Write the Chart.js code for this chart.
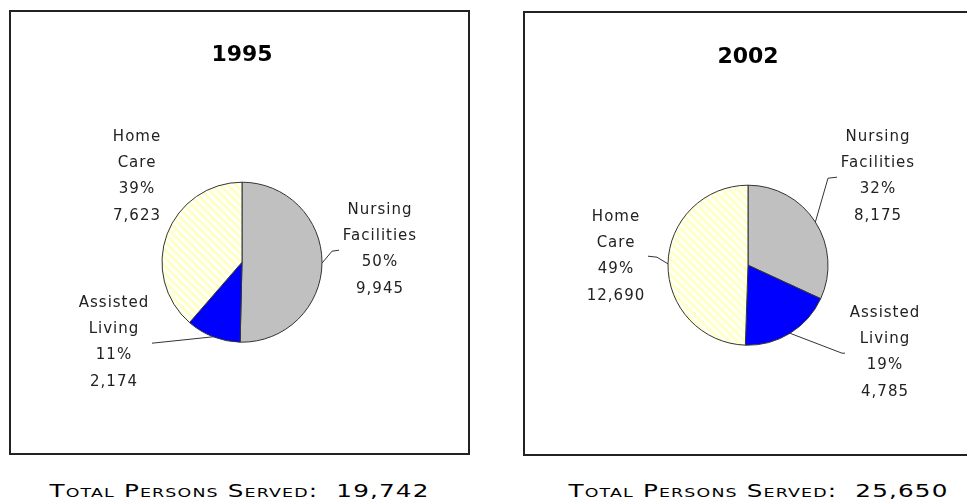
<!DOCTYPE html>
<html>
<head>
<meta charset="utf-8">
<script src="https://cdn.jsdelivr.net/npm/chart.js@4.4.1/dist/chart.umd.min.js"></script>
<style>
  html, body { margin: 0; padding: 0; background: #fff; overflow: hidden; }
  body { width: 967px; height: 501px; position: relative; }
  .panel { position: absolute; width: 461px; height: 445px; box-sizing: border-box; border: 2px solid #222; background: #fff; }
  .panel canvas { display: block; }
  .total {
    position: absolute; width: 461px; top: 483px; line-height: 17px;
    font-family: "DejaVu Sans", sans-serif; font-size: 17px; font-variant: small-caps;
    letter-spacing: 0.8px; text-align: center; color: #000; white-space: pre;
    transform: scaleX(1.45); transform-origin: center;
  }
</style>
</head>
<body>
<div class="panel" style="left:9px; top:10px;"><canvas id="pie1995" width="457" height="441"></canvas></div>
<div class="panel" style="left:523px; top:11px;"><canvas id="pie2002" width="457" height="441"></canvas></div>
<div class="total" id="total1995" style="left:9px;"></div>
<div class="total" id="total2002" style="left:528px;"></div>
<script>
document.addEventListener('DOMContentLoaded', function () {
  const categories = ['Nursing Facilities', 'Assisted Living', 'Home Care'];
  const years = ['1995', '2002'];
  const persons1995 = [9945, 2174, 7623];
  const persons2002 = [8175, 4785, 12690];

  // label placement per slice, offsets from pie centre (px)
  const layout1995 = [
    { label: [138, -13], elbow: [90, -11], end: [97, -12] },
    { label: [-128, 80], elbow: null, end: [-90, 81] },
    { label: [-105, -86], elbow: null, end: null }
  ];
  const layout2002 = [
    { label: [130, -89], elbow: [80, -87], end: [89, -88] },
    { label: [137, 87], elbow: [94, 88], end: [97, 88] },
    { label: [-132, -9], elbow: [-91, -8], end: [-100, -9] }
  ];

  function stripes() {
    const c = document.createElement('canvas');
    c.width = 8; c.height = 8;
    const g = c.getContext('2d');
    g.fillStyle = '#FFFFC8';
    g.fillRect(0, 0, 8, 8);
    g.strokeStyle = '#ffffff';
    g.lineWidth = 2.4;
    g.beginPath();
    g.moveTo(-1, -1); g.lineTo(9, 9);
    g.moveTo(-5, 3); g.lineTo(5, 13);
    g.moveTo(3, -5); g.lineTo(13, 5);
    g.stroke();
    return g.createPattern(c, 'repeat');
  }

  const fmt = v => v.toLocaleString('en-US');

  const sliceLabels = {
    id: 'sliceLabels',
    afterDatasetsDraw(chart, args, opts) {
      const ctx = chart.ctx;
      const values = chart.data.datasets[0].data;
      const total = values.reduce((s, v) => s + v, 0);
      const meta = chart.getDatasetMeta(0);
      ctx.save();
      ctx.font = '15px "DejaVu Sans", sans-serif';
      ctx.letterSpacing = '1px';
      ctx.fillStyle = '#222';
      ctx.strokeStyle = '#333';
      ctx.lineWidth = 1;
      ctx.textAlign = 'center';
      ctx.textBaseline = 'middle';
      meta.data.forEach((arc, i) => {
        const p = arc.getProps(['x', 'y', 'startAngle', 'endAngle', 'outerRadius'], true);
        const mid = (p.startAngle + p.endAngle) / 2;
        const lay = opts.layout[i];
        if (lay.end) {
          ctx.beginPath();
          ctx.moveTo(p.x + Math.cos(mid) * p.outerRadius, p.y + Math.sin(mid) * p.outerRadius);
          if (lay.elbow) ctx.lineTo(p.x + lay.elbow[0], p.y + lay.elbow[1]);
          ctx.lineTo(p.x + lay.end[0], p.y + lay.end[1]);
          ctx.stroke();
        }
        const lines = chart.data.labels[i].split(' ');
        lines.push(Math.round(values[i] / total * 100) + '%');
        lines.push(fmt(values[i]));
        const lh = 26.3;
        const top = p.y + lay.label[1] - lh * (lines.length - 1) / 2;
        lines.forEach((t, k) => ctx.fillText(t, p.x + lay.label[0], top + k * lh));
      });
      ctx.restore();
    }
  };

  function makePie(id, year, values, lay, pad, titlePad) {
    const ctx = document.getElementById(id).getContext('2d');
    return new Chart(ctx, {
      type: 'pie',
      data: {
        labels: categories,
        datasets: [{
          data: values,
          backgroundColor: ['#C0C0C0', '#0000FF', stripes()],
          borderColor: '#333',
          borderWidth: 1
        }]
      },
      options: {
        responsive: false,
        animation: false,
        radius: 80,
        layout: { padding: pad },
        plugins: {
          legend: { display: false },
          tooltip: { enabled: false },
          title: {
            display: true,
            text: year,
            color: '#000',
            font: { family: '"DejaVu Sans", sans-serif', size: 22, weight: 'bold', lineHeight: 1.2 },
            padding: titlePad
          },
          sliceLabels: { layout: lay }
        }
      },
      plugins: [sliceLabels]
    });
  }

  makePie('pie1995', years[0], persons1995, layout1995, { left: 5, right: 0, top: 0, bottom: 5 }, { top: 30, bottom: 8 });
  makePie('pie2002', years[1], persons2002, layout2002, { left: 0, right: 11, top: 0, bottom: 4 }, { top: 31, bottom: 10 });

  const sum = a => a.reduce((s, v) => s + v, 0);
  document.getElementById('total1995').textContent = 'Total Persons Served:  ' + fmt(sum(persons1995));
  document.getElementById('total2002').textContent = 'Total Persons Served:  ' + fmt(sum(persons2002));
});
</script>
</body>
</html>
